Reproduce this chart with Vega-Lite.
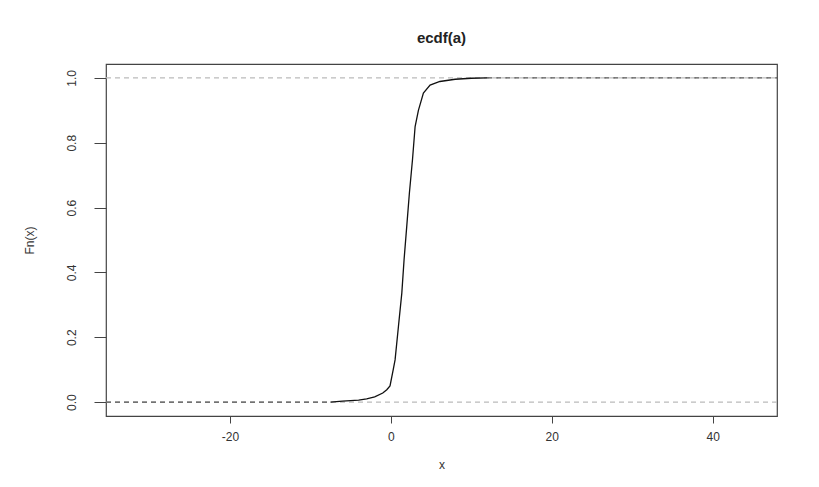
{
  "$schema": "https://vega.github.io/schema/vega-lite/v6.json",
  "autosize": {"type": "none"},
  "width": 671,
  "height": 352,
  "padding": {"left": 106, "top": 64, "right": 42, "bottom": 71},
  "background": "white",
  "config": {
    "font": "Liberation Sans",
    "view": {"stroke": "#444", "strokeWidth": 1.2},
    "axis": {"grid": false, "domain": false, "tickColor": "#444", "labelColor": "#333", "titleColor": "#333", "labelFont": "Liberation Sans", "titleFont": "Liberation Sans", "labelFontSize": 12, "titleFontSize": 12, "titleFontWeight": "normal"}
  },
  "title": {"text": "ecdf(a)", "fontSize": 15, "fontWeight": "bold", "color": "#222", "anchor": "middle", "offset": 6, "baseline": "alphabetic", "font": "Liberation Sans"},
  "datasets": {
    "refs": [{"y": 0}, {"y": 1}],
    "ext": [
      {"seg": "left", "x": -35.4, "y": 0},
      {"seg": "left", "x": -7.5, "y": 0},
      {"seg": "right", "x": 12, "y": 1},
      {"seg": "right", "x": 48, "y": 1}
    ],
    "curve": [
      {"x": -7.5, "y": 0.0},
      {"x": -6, "y": 0.003},
      {"x": -4, "y": 0.006},
      {"x": -3, "y": 0.01},
      {"x": -2, "y": 0.016},
      {"x": -1, "y": 0.028},
      {"x": -0.5, "y": 0.038},
      {"x": -0.1, "y": 0.05},
      {"x": 0.3, "y": 0.1},
      {"x": 0.53, "y": 0.13},
      {"x": 0.95, "y": 0.234},
      {"x": 1.37, "y": 0.337},
      {"x": 1.65, "y": 0.44},
      {"x": 1.98, "y": 0.542},
      {"x": 2.31, "y": 0.645},
      {"x": 2.69, "y": 0.747},
      {"x": 3.02, "y": 0.85},
      {"x": 3.43, "y": 0.9},
      {"x": 4.05, "y": 0.953},
      {"x": 4.88, "y": 0.978},
      {"x": 6.1, "y": 0.989},
      {"x": 8, "y": 0.996},
      {"x": 10, "y": 0.999},
      {"x": 12, "y": 1.0}
    ]
  },
  "layer": [
    {
      "data": {"name": "refs"},
      "mark": {"type": "rule", "color": "#bbbbbb", "strokeDash": [5, 4], "strokeWidth": 1.2},
      "encoding": {
        "y": {"field": "y", "type": "quantitative", "title": "Fn(x)", "scale": {"domain": [-0.043, 1.043], "nice": false, "zero": false},
              "axis": {"values": [0, 0.2, 0.4, 0.6, 0.8, 1.0], "format": ".1f", "tickSize": 12, "labelAngle": -90, "labelAlign": "center", "labelBaseline": "bottom", "labelPadding": 16, "titlePadding": 29}}
      }
    },
    {
      "data": {"name": "ext"},
      "mark": {"type": "line", "color": "#555555", "strokeDash": [5, 4], "strokeWidth": 1.2},
      "encoding": {
        "x": {"field": "x", "type": "quantitative", "title": "x", "scale": {"domain": [-35.4, 48], "nice": false, "zero": false},
              "axis": {"values": [-20, 0, 20, 40], "labelExpr": "'' + datum.value", "tickSize": 7, "labelPadding": 8, "titlePadding": 17}},
        "y": {"field": "y", "type": "quantitative", "title": "Fn(x)", "scale": {"domain": [-0.043, 1.043], "nice": false, "zero": false},
              "axis": {"values": [0, 0.2, 0.4, 0.6, 0.8, 1.0], "format": ".1f", "tickSize": 12, "labelAngle": -90, "labelAlign": "center", "labelBaseline": "bottom", "labelPadding": 16, "titlePadding": 29}},
        "detail": {"field": "seg"}
      }
    },
    {
      "data": {"name": "curve"},
      "mark": {"type": "line", "color": "#111111", "strokeWidth": 1.3},
      "encoding": {
        "x": {"field": "x", "type": "quantitative", "title": "x", "scale": {"domain": [-35.4, 48], "nice": false, "zero": false},
              "axis": {"values": [-20, 0, 20, 40], "labelExpr": "'' + datum.value", "tickSize": 7, "labelPadding": 8, "titlePadding": 17}},
        "y": {"field": "y", "type": "quantitative", "title": "Fn(x)", "scale": {"domain": [-0.043, 1.043], "nice": false, "zero": false},
              "axis": {"values": [0, 0.2, 0.4, 0.6, 0.8, 1.0], "format": ".1f", "tickSize": 12, "labelAngle": -90, "labelAlign": "center", "labelBaseline": "bottom", "labelPadding": 16, "titlePadding": 29}}
      }
    }
  ]
}
